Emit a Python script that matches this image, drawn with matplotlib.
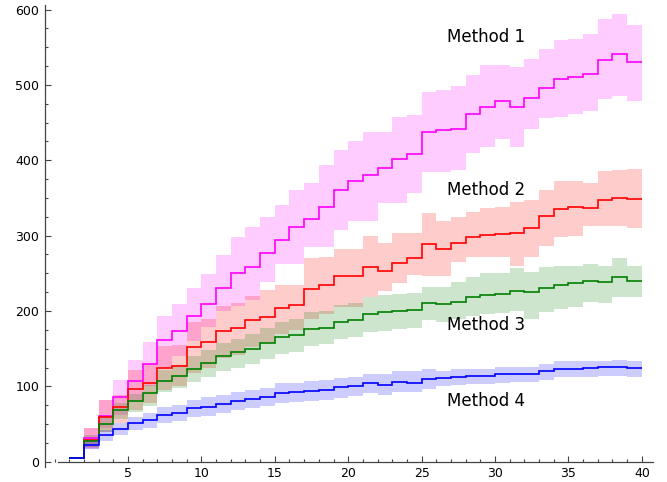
import numpy as np
import matplotlib
matplotlib.use('Agg')
import matplotlib.pyplot as plt
from matplotlib.ticker import MultipleLocator

# step edges: intervals [1,2], [2,3], ..., [39,40]
edges = np.arange(1, 41)

m1_mid = [5, 31, 61, 86, 107, 130, 161, 173, 193, 209, 231, 250, 259, 277, 294, 311, 322, 338, 361, 372,
          381, 390, 402, 408, 437, 440, 442, 461, 471, 478, 470, 482, 496, 508, 510, 515, 533, 541, 530]
m1_hi = [5, 45, 82, 108, 135, 159, 193, 209, 231, 249, 274, 298, 311, 325, 340, 360, 370, 394, 414, 425,
         437, 438, 458, 460, 490, 493, 499, 513, 526, 526, 524, 534, 547, 560, 561, 567, 587, 594, 579]
m1_lo = [5, 17, 45, 62, 80, 100, 125, 140, 160, 179, 200, 207, 214, 238, 263, 263, 285, 285, 307, 319,
         319, 343, 343, 356, 385, 385, 387, 410, 418, 428, 417, 442, 456, 457, 462, 465, 481, 485, 479]

m2_mid = [5, 29, 60, 73, 96, 105, 125, 127, 152, 159, 174, 177, 188, 192, 204, 208, 229, 234, 246, 246,
          259, 253, 264, 270, 289, 282, 290, 298, 301, 302, 304, 310, 326, 335, 338, 336, 347, 350, 349]
m2_hi = [5, 45, 82, 88, 122, 130, 153, 155, 185, 190, 206, 210, 220, 228, 234, 234, 270, 272, 282, 282,
         299, 290, 304, 304, 330, 319, 325, 332, 336, 338, 345, 347, 361, 373, 373, 370, 386, 387, 388]
m2_lo = [5, 18, 40, 52, 68, 78, 95, 100, 118, 125, 138, 142, 152, 158, 170, 175, 190, 196, 205, 205,
         218, 226, 237, 248, 246, 246, 265, 272, 272, 272, 260, 272, 286, 298, 300, 313, 313, 313, 310]

m3_mid = [5, 27, 50, 69, 80, 91, 107, 114, 123, 131, 140, 145, 150, 157, 165, 168, 176, 178, 186, 188,
          196, 198, 200, 201, 211, 209, 212, 218, 221, 222, 226, 225, 231, 235, 237, 240, 239, 245, 240]
m3_hi = [5, 35, 58, 78, 90, 102, 122, 128, 140, 148, 158, 163, 170, 177, 186, 190, 198, 200, 208, 210,
         218, 221, 222, 224, 232, 232, 239, 245, 251, 251, 257, 252, 258, 260, 260, 262, 260, 270, 260]
m3_lo = [5, 20, 40, 57, 66, 74, 92, 98, 106, 112, 120, 125, 130, 136, 143, 146, 153, 156, 163, 165,
         172, 174, 176, 178, 188, 186, 190, 194, 196, 197, 200, 190, 199, 202, 205, 212, 210, 219, 219]

m4_mid = [5, 22, 35, 44, 51, 55, 62, 64, 71, 72, 77, 80, 83, 86, 91, 92, 94, 95, 99, 101,
          104, 102, 106, 105, 110, 111, 113, 114, 114, 116, 117, 117, 120, 123, 123, 125, 126, 126, 124]
m4_hi = [5, 28, 42, 52, 60, 64, 72, 75, 82, 86, 89, 92, 95, 98, 104, 104, 107, 108, 111, 113,
         117, 116, 120, 120, 123, 120, 123, 123, 123, 126, 126, 126, 130, 134, 134, 133, 134, 135, 133]
m4_lo = [5, 17, 28, 36, 42, 45, 52, 54, 60, 61, 65, 68, 71, 74, 78, 79, 81, 82, 85, 87,
         91, 89, 93, 92, 96, 100, 102, 103, 103, 105, 106, 106, 109, 112, 112, 112, 114, 114, 112]

labels = ['Method 1', 'Method 2', 'Method 3', 'Method 4']
label_y = [557, 354, 175, 74]
colors = ['#ff00ff', '#ff0000', '#008000', '#0000ff']

series = [(m1_mid, m1_lo, m1_hi), (m2_mid, m2_lo, m2_hi),
          (m3_mid, m3_lo, m3_hi), (m4_mid, m4_lo, m4_hi)]

W, H = 667, 482
fig = plt.figure(figsize=(W / 100, H / 100), dpi=100)
ax = fig.add_axes([45 / W, 15 / H, (653 - 45) / W, (467 - 5) / H])

for (mid, lo, hi), c in zip(series, colors):
    ax.stairs(hi, edges, baseline=lo, fill=True, color=c, alpha=0.2, lw=0, zorder=1)

for (mid, lo, hi), c in zip(series, colors):
    ax.stairs(mid, edges, baseline=None, color=c, lw=1.2, zorder=3)

for lab, yy in zip(labels, label_y):
    ax.text(29.4, yy, lab, ha='center', va='baseline', fontsize=12, color='black')

ax.set_xlim(-0.654, 40.76)
ax.set_ylim(-7, 606)

for s in ['top', 'right']:
    ax.spines[s].set_visible(False)
ax.spines['bottom'].set_position(('data', 0))
ax.spines['bottom'].set_bounds(0.23, 40.76)
for s in ['left', 'bottom']:
    ax.spines[s].set_color('#444444')
    ax.spines[s].set_linewidth(0.9)

ax.xaxis.set_major_locator(MultipleLocator(5))
ax.xaxis.set_minor_locator(MultipleLocator(1))
ax.yaxis.set_major_locator(MultipleLocator(100))
ax.yaxis.set_minor_locator(MultipleLocator(25))
ax.set_xticks([5, 10, 15, 20, 25, 30, 35, 40])
ax.tick_params(which='both', direction='in', color='#444444', width=0.8, labelsize=9)
ax.tick_params(which='major', length=4, pad=4)
ax.tick_params(which='minor', length=2.2)

fig.savefig('out.png', dpi=100)
